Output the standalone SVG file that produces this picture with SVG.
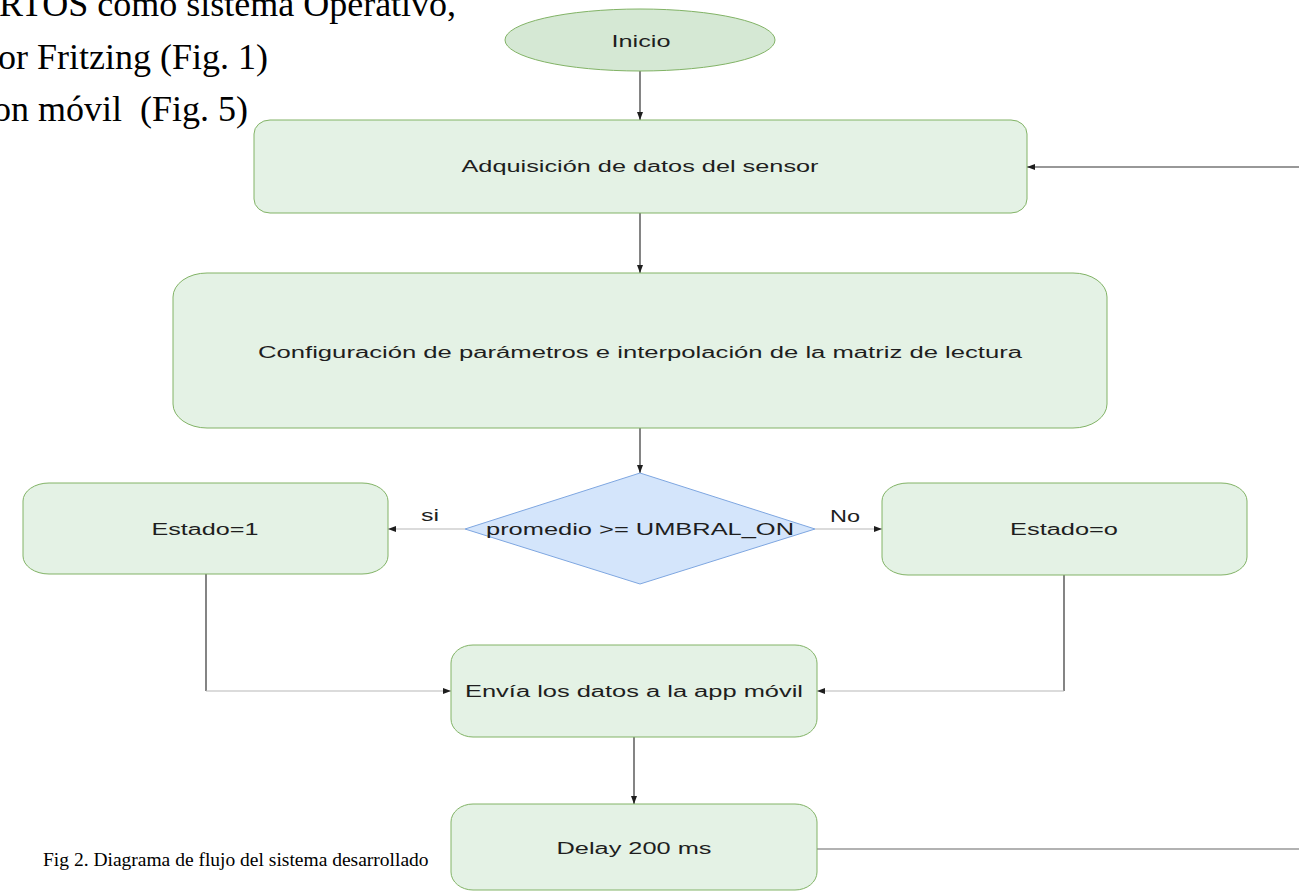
<svg xmlns="http://www.w3.org/2000/svg" width="1299" height="891" viewBox="0 0 1299 891">
<style>
.doc{font-family:"Liberation Serif","Times New Roman",serif;fill:#000;white-space:pre}
.lbl{font-family:"Liberation Sans",Arial,Helvetica,sans-serif;font-size:16px;fill:#1e1e1e;text-anchor:middle}
.box{fill:#e4f2e5;stroke:#82b366;stroke-width:1}
.term{fill:#d5e8d4;stroke:#82b366;stroke-width:1}
.dec{fill:#d4e5fb;stroke:#7ea6e0;stroke-width:1}
.dk{fill:none;stroke:#333;stroke-width:1.2}
.lt{fill:none;stroke:#b8b8b8;stroke-width:1.2}
.gr{fill:none;stroke:#999;stroke-width:1.6}
</style>
<defs>
<marker id="ah" markerWidth="8" markerHeight="6" refX="8" refY="3" orient="auto" markerUnits="userSpaceOnUse">
<path d="M0,0 L8,3 L0,6 Z" fill="#1e1e1e"/>
</marker>
</defs>
<rect width="1299" height="891" fill="#fff"/>
<g id="doc-text">
<text class="doc" x="-1" y="16" font-size="36">RTOS como sistema Operativo,</text>
<text class="doc" x="-2" y="69" font-size="36">or Fritzing (Fig. 1)</text>
<text class="doc" x="-7" y="121" font-size="36">on móvil  (Fig. 5)</text>
<text class="doc" x="43" y="866" font-size="19.5">Fig 2. Diagrama de flujo del sistema desarrollado</text>
</g>
<g id="connectors">
<line class="dk" x1="640" y1="71" x2="640" y2="120" marker-end="url(#ah)"/>
<line class="dk" x1="640" y1="213" x2="640" y2="273" marker-end="url(#ah)"/>
<line class="dk" x1="640" y1="428" x2="640" y2="473" marker-end="url(#ah)"/>
<line class="lt" x1="465" y1="529" x2="388" y2="529" marker-end="url(#ah)"/>
<line class="lt" x1="815" y1="529" x2="882" y2="529" marker-end="url(#ah)"/>
<line class="dk" x1="206" y1="574" x2="206" y2="691"/>
<line class="lt" x1="206" y1="691" x2="451" y2="691" marker-end="url(#ah)"/>
<line class="dk" x1="1064" y1="575" x2="1064" y2="691"/>
<line class="lt" x1="1064" y1="691" x2="817" y2="691" marker-end="url(#ah)"/>
<line class="dk" x1="634" y1="737" x2="634" y2="804" marker-end="url(#ah)"/>
<line class="gr" x1="817" y1="849" x2="1299" y2="849"/>
<line class="dk" x1="1299" y1="167" x2="1027" y2="167" marker-end="url(#ah)" stroke-width="1.5"/>
<text class="lbl" x="430" y="521" textLength="18" lengthAdjust="spacingAndGlyphs">si</text>
<text class="lbl" x="845" y="522" textLength="30" lengthAdjust="spacingAndGlyphs">No</text>
</g>
<g id="inicio">
<ellipse class="term" cx="640" cy="40" rx="135" ry="31"/>
<text class="lbl" x="641" y="47" textLength="59" lengthAdjust="spacingAndGlyphs">Inicio</text>
</g>
<g id="adquisicion">
<rect class="box" x="254" y="120" width="773" height="93" rx="16" ry="14"/>
<text class="lbl" x="640" y="172" textLength="357" lengthAdjust="spacingAndGlyphs">Adquisición de datos del sensor</text>
</g>
<g id="configuracion">
<rect class="box" x="173" y="273" width="934" height="155" rx="34" ry="24"/>
<text class="lbl" x="640" y="358" textLength="764" lengthAdjust="spacingAndGlyphs">Configuración de parámetros e interpolación de la matriz de lectura</text>
</g>
<g id="decision">
<polygon class="dec" points="640,473 815,529 640,584 465,529"/>
<text class="lbl" x="640" y="535" textLength="308" lengthAdjust="spacingAndGlyphs">promedio &gt;= UMBRAL_ON</text>
</g>
<g id="estado1">
<rect class="box" x="23" y="483" width="365" height="91" rx="26" ry="18"/>
<text class="lbl" x="205" y="535" textLength="107" lengthAdjust="spacingAndGlyphs">Estado=1</text>
</g>
<g id="estado0">
<rect class="box" x="882" y="483" width="365" height="92" rx="26" ry="18"/>
<text class="lbl" x="1064" y="535" textLength="108" lengthAdjust="spacingAndGlyphs">Estado=o</text>
</g>
<g id="envia">
<rect class="box" x="451" y="645" width="366" height="92" rx="22" ry="18"/>
<text class="lbl" x="634" y="697" textLength="338" lengthAdjust="spacingAndGlyphs">Envía los datos a la app móvil</text>
</g>
<g id="delay">
<rect class="box" x="451" y="804" width="366" height="86" rx="22" ry="18"/>
<text class="lbl" x="634" y="854" textLength="155" lengthAdjust="spacingAndGlyphs">Delay 200 ms</text>
</g>
</svg>
